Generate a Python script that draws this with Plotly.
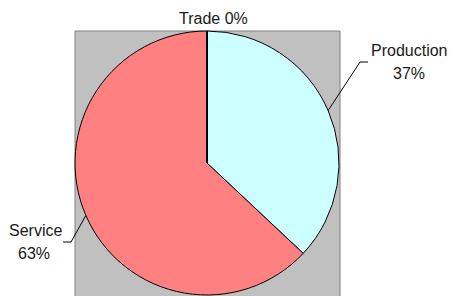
import math
import plotly.graph_objects as go

# Data
labels = ["Production", "Service", "Trade"]
values = [37, 63, 0]
colors = ["#CCFFFF", "#FF8080", "#FFFFFF"]

W, H = 450, 296
# pie geometry in pixels
cx, cy, R = 207, 163, 132

def px(x):
    return x / W

def py(y):
    return 1 - y / H

fig = go.Figure()
fig.add_trace(go.Pie(
    labels=labels, values=values, sort=False, direction="clockwise", rotation=0,
    marker=dict(colors=colors, line=dict(color="#000000", width=1)),
    textinfo="none", hoverinfo="label+percent", showlegend=False,
    domain=dict(x=[px(cx - R), px(cx + R)], y=[py(cy + R), py(cy - R)]),
))

shapes = [dict(type="rect", xref="paper", yref="paper", layer="below",
               x0=px(75), x1=px(340), y0=-0.05, y1=py(31),
               fillcolor="#C0C0C0", line=dict(color="#808080", width=1))]

total = sum(values)
def edge_point(idx):
    start = sum(values[:idx]) / total
    mid = (start + values[idx] / total / 2) * 2 * math.pi
    return cx + R * math.sin(mid), cy - R * math.cos(mid)

# Production leader
ex, ey = edge_point(0)
shapes.append(dict(type="path", xref="paper", yref="paper",
                   path=f"M {px(ex)},{py(ey)} L {px(360)},{py(62)} L {px(368)},{py(62)}",
                   line=dict(color="#000000", width=1)))
# Service leader
ex, ey = edge_point(1)
shapes.append(dict(type="path", xref="paper", yref="paper",
                   path=f"M {px(ex)},{py(ey)} L {px(71)},{py(242)} L {px(63)},{py(242)}",
                   line=dict(color="#000000", width=1)))
# thick top edge of the zero-size Trade slice
shapes.append(dict(type="line", xref="paper", yref="paper",
                   x0=px(cx), x1=px(cx), y0=py(cy), y1=py(cy - R),
                   line=dict(color="#000000", width=2)))

font = dict(family="Arial, Liberation Sans, sans-serif", size=16, color="#1a1a1a")
pct = [round(v / total * 100) for v in values]

def ann(text, x, y):
    return dict(text=text, x=px(x), y=py(y), xref="paper", yref="paper",
                showarrow=False, xanchor="center", yanchor="middle", font=font)

annotations = [
    ann(labels[0], 409, 51),
    ann(f"{pct[0]}%", 409, 73),
    ann(labels[1], 35.5, 230.5),
    ann(f"{pct[1]}%", 34, 253.5),
    ann(f"{labels[2]} {pct[2]}%", 213.5, 18),
]

fig.update_layout(width=W, height=H, margin=dict(l=0, r=0, t=0, b=0),
                  paper_bgcolor="#FFFFFF", shapes=shapes, annotations=annotations)
fig.write_html("out.html", post_script="document.body.style.margin='0';",
               config={"displayModeBar": False})
